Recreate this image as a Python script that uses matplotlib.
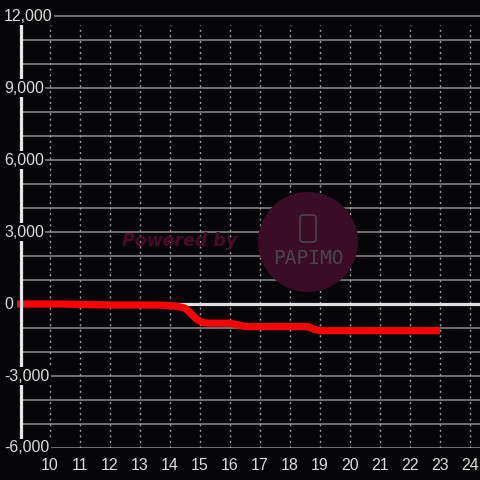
import matplotlib
matplotlib.use("Agg")
import matplotlib.pyplot as plt
import matplotlib.transforms as mtransforms
from matplotlib.patches import Circle, FancyBboxPatch

# data (hour of day, balance)
hours = [8.9, 10.5, 11.0, 12.0, 13.0, 13.8, 14.2, 14.5, 14.7, 14.9, 15.1, 15.3,
         16.0, 16.3, 16.5, 18.6, 18.8, 19.0, 23.0]
values = [0, 0, -20, -40, -40, -50, -90, -170, -400, -650, -780, -800,
          -800, -880, -940, -940, -1060, -1110, -1110]

x_ticks = list(range(10, 25))
y_labels = [-6000, -3000, 0, 3000, 6000, 9000, 12000]
y_grid = list(range(-6000, 12001, 1000))

bg = "#050508"
txt = "#dcdcdc"

plt.rcParams["font.family"] = ["Liberation Sans", "DejaVu Sans"]

fig = plt.figure(figsize=(4.8, 4.8), dpi=100, facecolor=bg)
ax = fig.add_axes([0, 32 / 480, 1, 448 / 480])
ax.set_facecolor(bg)
ax.set_xlim(8.333, 24.333)
ax.set_ylim(-6000, 12667)

# watermark
fig.text(180 / 480, 1 - 241 / 480, "Powered by", color="#4b0a28", fontsize=12.5,
         fontweight="bold", fontstyle="italic", family="DejaVu Sans",
         ha="center", va="center", zorder=0)
fig.patches.append(Circle((308 / 480, 1 - 242 / 480), 50 / 480, transform=fig.transFigure,
                          facecolor="#3a0d24", edgecolor="none", zorder=0))
fig.patches.append(FancyBboxPatch((300 / 480, 1 - 242 / 480), 16 / 480, 27 / 480,
                                  boxstyle="round,pad=0,rounding_size=0.006",
                                  transform=fig.transFigure, facecolor="none",
                                  edgecolor="#474747", lw=1.2, zorder=0))
fig.text(308 / 480, 1 - 258 / 480, "PAPIMO", color="#474747", fontsize=14,
         family="DejaVu Sans Mono", ha="center", va="center", zorder=0)
ax.patch.set_alpha(0)

# grid
ax.hlines(y_grid, 9.03, 24.333, colors="#8c8c8c", lw=1.1, zorder=1)
ax.vlines(x_ticks, -6000, 11625, colors="#a0a0a0", lw=1, linestyles=(0, (1.5, 2.5)), zorder=1)
ax.hlines([0], 9.03, 24.333, colors="#e0e0e0", lw=2.3, zorder=1.5)

ax.plot(hours, values, color="#ff0000", lw=5.2, solid_joinstyle="round",
        solid_capstyle="butt", zorder=2)

for s in ["top", "right", "bottom"]:
    ax.spines[s].set_visible(False)
ax.spines["left"].set_position(("data", 9.03))
ax.spines["left"].set_bounds(-5960, 11625)
ax.spines["left"].set_color("#e6e6e6")
ax.spines["left"].set_linewidth(2.3)
ax.spines["left"].set_zorder(2.5)

ax.set_yticks([])
ax.set_xticks(x_ticks)
ax.set_xticklabels([str(h) for h in x_ticks])
ax.tick_params(axis="x", length=0, pad=7, labelcolor=txt, labelsize=11.5)

trans = mtransforms.blended_transform_factory(ax.transAxes, ax.transData)
for v in y_labels:
    ax.text(4 / 480, v, f"{v:,}", transform=trans, ha="left", va="center",
            color=txt, fontsize=11.5, zorder=5,
            bbox=dict(facecolor=bg, edgecolor="none", pad=1))

fig.savefig("out.png", dpi=100, facecolor=bg)
